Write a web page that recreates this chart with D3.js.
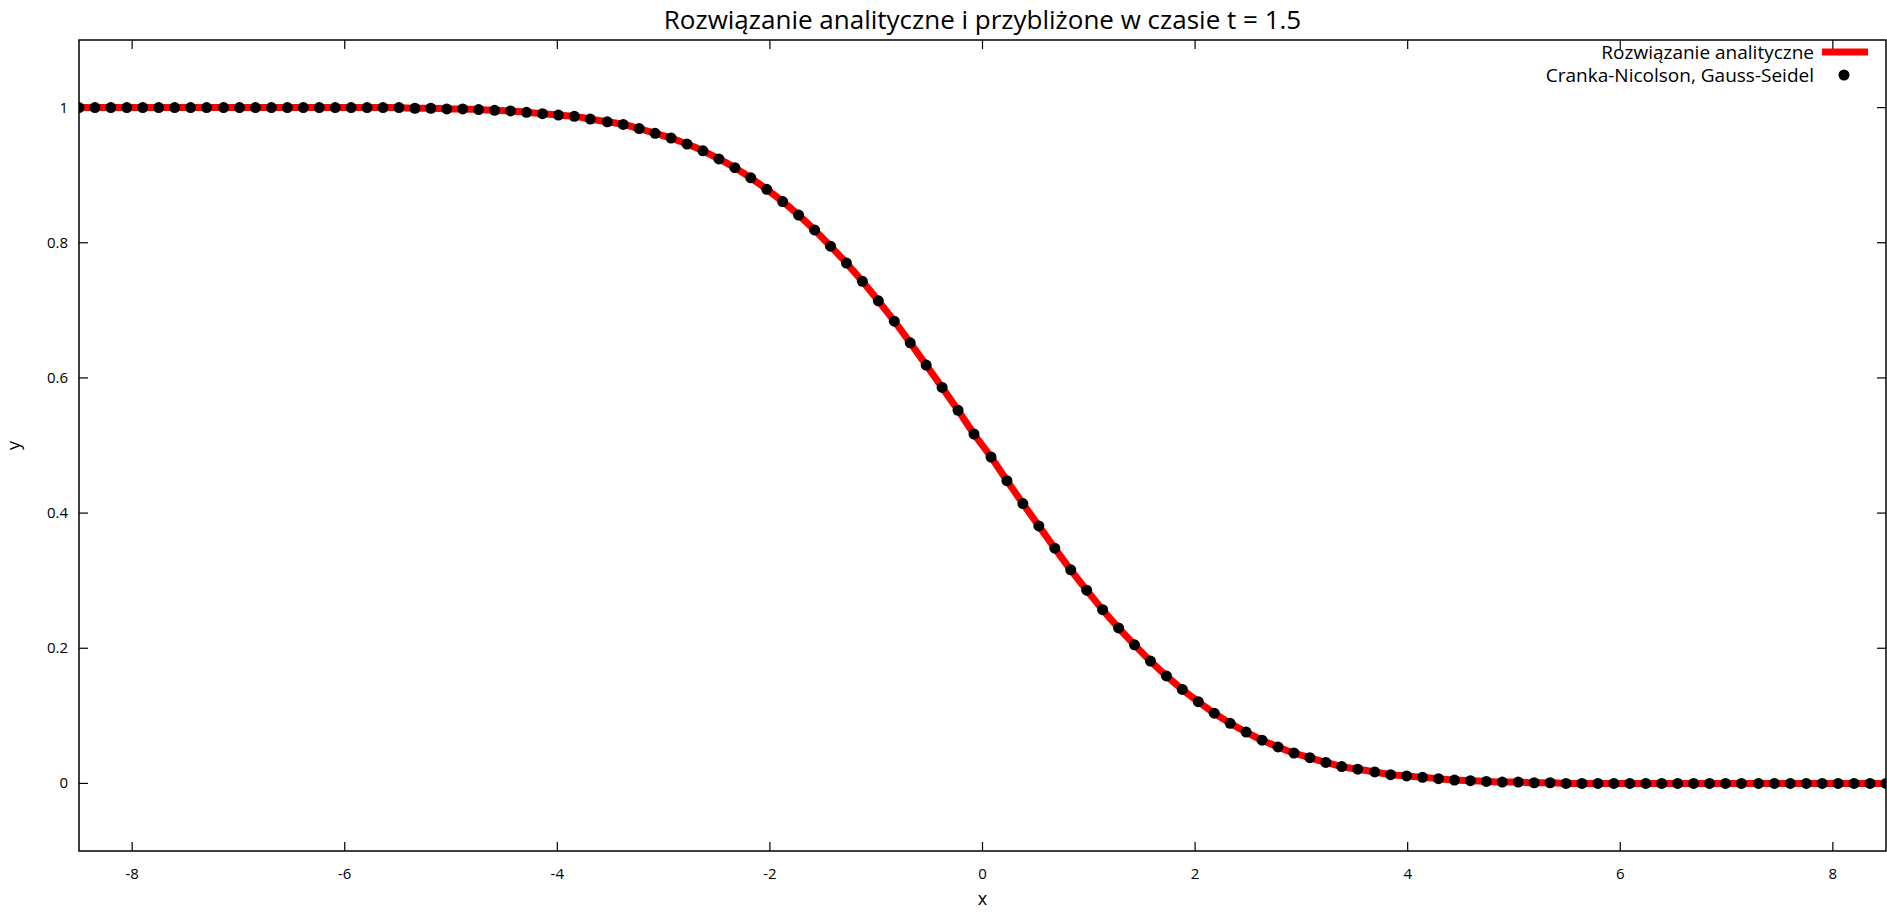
<!DOCTYPE html>
<html>
<head>
<meta charset="utf-8">
<script src="https://cdn.jsdelivr.net/npm/d3@7"></script>
<style>
  body { margin: 0; background: #fff; }
  text { font-family: "Open Sans", "Noto Sans", sans-serif; fill: #000; }
</style>
</head>
<body>
<div id="visual"></div>
<script>
var w = 1887, h = 915;
var margin = {left: 79, right: 1, top: 40, bottom: 64};

var title = "Rozwiązanie analityczne i przybliżone w czasie t = 1.5";
var seriesNames = ["Rozwiązanie analityczne", "Cranka-Nicolson, Gauss-Seidel"];
var xTicks = [-8, -6, -4, -2, 0, 2, 4, 6, 8];
var yTicks = [0, 0.2, 0.4, 0.6, 0.8, 1];

var xNeg = [-8.50,-8.35,-8.20,-8.05,-7.90,-7.75,-7.60,-7.45,-7.30,-7.14,-6.99,-6.84,-6.69,-6.54,-6.39,-6.24,-6.09,-5.94,-5.79,-5.64,-5.49,-5.34,-5.19,-5.04,-4.89,-4.74,-4.59,-4.44,-4.29,-4.14,-3.99,-3.84,-3.69,-3.53,-3.38,-3.23,-3.08,-2.93,-2.78,-2.63,-2.48,-2.33,-2.18,-2.03,-1.88,-1.73,-1.58,-1.43,-1.28,-1.13,-0.98,-0.83,-0.68,-0.53,-0.38,-0.23,-0.08];
var yNeg = [1,1,1,1,1,1,1,1,1,1,1,1,1,1,1,1,1,1,1,1,1,
  0.999,0.999,0.998,0.998,0.997,0.996,0.995,0.993,0.991,0.989,0.987,0.983,0.979,0.975,0.969,0.962,0.955,0.946,0.936,0.924,0.911,0.896,0.879,0.861,0.841,0.819,0.795,0.770,0.743,0.714,0.684,0.652,0.619,0.586,0.552,0.517];
var xPos = [0.08,0.23,0.38,0.53,0.68,0.83,0.98,1.13,1.28,1.43,1.58,1.73,1.88,2.03,2.18,2.33,2.48,2.63,2.78,2.93,3.08,3.23,3.38,3.53,3.69,3.84,3.99,4.14,4.29,4.44,4.59,4.74,4.89,5.04,5.19,5.34,5.49,5.64,5.79,5.94,6.09,6.24,6.39,6.54,6.69,6.84,6.99,7.14,7.30,7.45,7.60,7.75,7.90,8.05,8.20,8.35,8.50];
var yPos = [0.483,0.448,0.414,0.381,0.348,0.316,0.286,0.257,0.230,0.205,0.181,0.159,0.139,0.121,0.104,0.089,0.076,0.064,0.054,0.045,0.038,0.031,0.025,0.021,0.017,0.013,0.011,0.009,0.007,0.005,0.004,0.003,0.002,0.002,0.001,0.001,
  0,0,0,0,0,0,0,0,0,0,0,0,0,0,0,0,0,0,0,0,0];

var xs = xNeg.concat(xPos);
var ys = yNeg.concat(yPos);
var data = xs.map(function(x, i) { return {x: x, y: ys[i]}; });

var svg = d3.select("#visual").append("svg").attr("width", w).attr("height", h);

var x = d3.scaleLinear().domain([-8.5, 8.5]).range([margin.left, w - margin.right]);
var y = d3.scaleLinear().domain([-0.1, 1.1]).range([h - margin.bottom, margin.top]);

svg.append("clipPath").attr("id", "clip").append("rect")
    .attr("x", margin.left).attr("y", margin.top)
    .attr("width", w - margin.left - margin.right)
    .attr("height", h - margin.top - margin.bottom);

// ticks, gnuplot style: inward, mirrored
var tickLen = 9;
var pBottom = h - margin.bottom, pTop = margin.top, pLeft = margin.left, pRight = w - margin.right;
var ticks = svg.append("g").attr("stroke", "#000").attr("stroke-width", 1.2);
xTicks.forEach(function(t) {
    ticks.append("line").attr("x1", x(t)).attr("x2", x(t)).attr("y1", pBottom).attr("y2", pBottom - tickLen);
    ticks.append("line").attr("x1", x(t)).attr("x2", x(t)).attr("y1", pTop).attr("y2", pTop + tickLen);
    svg.append("text").attr("x", x(t)).attr("y", pBottom + 28).attr("text-anchor", "middle")
        .style("font-size", "15px").text(t);
});
yTicks.forEach(function(t) {
    ticks.append("line").attr("x1", pLeft).attr("x2", pLeft + tickLen).attr("y1", y(t)).attr("y2", y(t));
    ticks.append("line").attr("x1", pRight).attr("x2", pRight - tickLen).attr("y1", y(t)).attr("y2", y(t));
    svg.append("text").attr("x", pLeft - 11).attr("y", y(t) + 5).attr("text-anchor", "end")
        .style("font-size", "15px").text(t);
});

svg.append("rect").attr("x", pLeft).attr("y", pTop)
    .attr("width", pRight - pLeft).attr("height", pBottom - pTop)
    .attr("fill", "none").attr("stroke", "#000").attr("stroke-width", 1.5);

var plot = svg.append("g").attr("clip-path", "url(#clip)");
var line = d3.line().x(function(d) { return x(d.x); }).y(function(d) { return y(d.y); }).curve(d3.curveMonotoneX);
plot.append("path").datum(data).attr("d", line)
    .attr("fill", "none").attr("stroke", "#ff0000").attr("stroke-width", 7);
plot.selectAll(".pt").data(data).enter().append("circle")
    .attr("class", "pt")
    .attr("cx", function(d) { return x(d.x); })
    .attr("cy", function(d) { return y(d.y); })
    .attr("r", 5.5).attr("fill", "#000");

svg.append("text").attr("x", (pLeft + pRight) / 2).attr("y", 29).attr("text-anchor", "middle")
    .style("font-size", "26px").text(title);
svg.append("text").attr("x", x(0)).attr("y", 905).attr("text-anchor", "middle")
    .style("font-size", "18px").text("x");
svg.append("text").attr("transform", "translate(20," + ((pTop + pBottom) / 2) + ") rotate(-90)")
    .attr("text-anchor", "middle").style("font-size", "18px").text("y");

// legend
svg.append("text").attr("x", 1814).attr("y", 59).attr("text-anchor", "end")
    .style("font-size", "19px").text(seriesNames[0]);
svg.append("line").attr("x1", 1822).attr("x2", 1868).attr("y1", 52).attr("y2", 52)
    .attr("stroke", "#ff0000").attr("stroke-width", 7);
svg.append("text").attr("x", 1814).attr("y", 82).attr("text-anchor", "end")
    .style("font-size", "19px").text(seriesNames[1]);
svg.append("circle").attr("cx", 1844).attr("cy", 75).attr("r", 5.5).attr("fill", "#000");
</script>
</body>
</html>
